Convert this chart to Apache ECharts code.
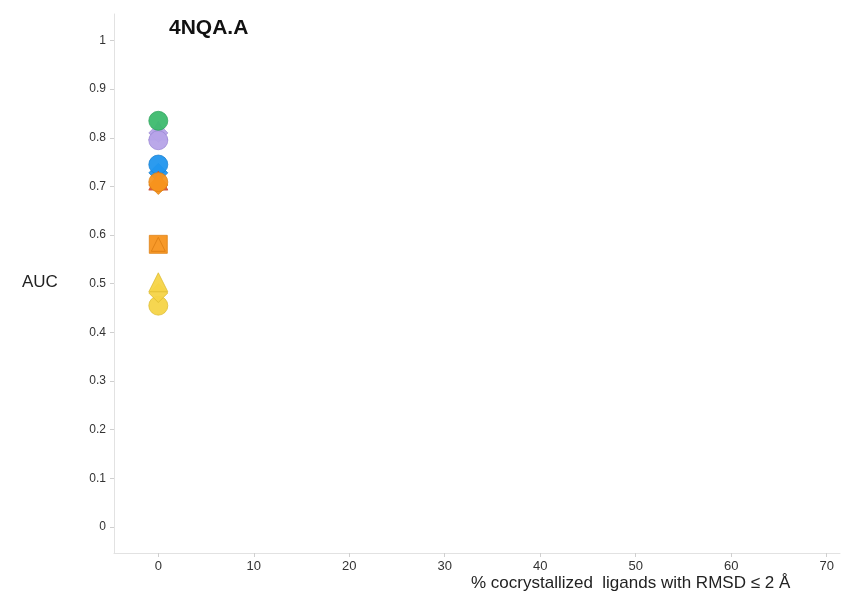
<!DOCTYPE html>
<html>
<head>
<meta charset="utf-8">
<script src="https://cdn.jsdelivr.net/npm/echarts@6/dist/echarts.min.js"></script>
<style>
  html, body { margin: 0; padding: 0; background: #fff; }
  #chart { width: 841px; height: 600px; }
</style>
</head>
<body>
<div id="chart"></div>
<script>
// Tick labels
const xTicks = [0, 10, 20, 30, 40, 50, 60, 70];
const yTicks = [0, 0.1, 0.2, 0.3, 0.4, 0.5, 0.6, 0.7, 0.8, 0.9, 1];

// Points: [% ligands with RMSD <= 2 Å, AUC]
const purpleTriangle = [[0, 0.815]];
const purpleDiamond = [[0, 0.81]];
const purpleCircle = [[0, 0.795]];
const greenCircle = [[0, 0.835]];
const blueDiamond = [[0, 0.728]];
const blueCircle = [[0, 0.745]];
const redTriangle = [[0, 0.712]];
const orangeDiamond = [[0, 0.703]];
const orangeCircle = [[0, 0.709]];
const orangeSquare = [[0, 0.581]];
const orangeTriangle = [[0, 0.581]];
const yellowCircle = [[0, 0.455]];
const yellowDiamond = [[0, 0.481]];
const yellowTriangle = [[0, 0.503]];

const font = '"Liberation Sans", Arial, sans-serif';

function pts(data, symbol, color, border, size) {
  return {
    type: 'scatter',
    data: data,
    symbol: symbol,
    symbolSize: size || 19,
    itemStyle: { color: color, borderColor: border, borderWidth: 0.8, opacity: 0.95 },
    emphasis: { disabled: true }
  };
}

const chart = echarts.init(document.getElementById('chart'));
chart.setOption({
  animation: false,
  backgroundColor: '#fff',
  grid: { left: 114, right: 1, top: 14, bottom: 47 },
  title: {
    text: '4NQA.A',
    left: 164, top: 13,
    textStyle: { fontFamily: font, fontSize: 21, fontWeight: 'bold', color: '#111' }
  },
  graphic: [
    {
      type: 'text', left: 22, top: 274,
      style: { text: 'AUC', font: '17px ' + font, fill: '#222' }
    },
    {
      type: 'text', left: 471, top: 575,
      style: { text: '% cocrystallized  ligands with RMSD \u2264 2 \u00C5', font: '17px ' + font, fill: '#222' }
    }
  ],
  xAxis: {
    type: 'value',
    min: -4.64, max: 71.4,
    splitLine: { show: false },
    axisLine: { show: true, onZero: false, lineStyle: { color: '#e2e2e2', width: 1 } },
    axisTick: { show: true, customValues: xTicks, length: 4, lineStyle: { color: '#cfcfcf' } },
    axisLabel: { customValues: xTicks, color: '#333', fontFamily: font, fontSize: 13, margin: 7 }
  },
  yAxis: {
    type: 'value',
    min: -0.0535, max: 1.0545,
    splitLine: { show: false },
    axisLine: { show: true, onZero: false, lineStyle: { color: '#e2e2e2', width: 1 } },
    axisTick: { show: true, customValues: yTicks, length: 4, lineStyle: { color: '#cfcfcf' } },
    axisLabel: { customValues: yTicks, color: '#333', fontFamily: font, fontSize: 12, margin: 8,
      formatter: v => String(Math.round(v * 10) / 10) }
  },
  series: [
    pts(purpleTriangle, 'triangle', '#b6a3e8', '#9c88d4'),
    pts(purpleDiamond, 'diamond', '#b6a3e8', '#9c88d4'),
    pts(purpleCircle, 'circle', '#b6a3e8', '#9c88d4'),
    pts(greenCircle, 'circle', '#3dba6e', '#2ea35c'),
    pts(blueDiamond, 'diamond', '#2196ee', '#1b7fcf'),
    pts(blueCircle, 'circle', '#2196ee', '#1b7fcf'),
    pts(redTriangle, 'triangle', '#e2573a', '#c84a30'),
    pts(orangeDiamond, 'diamond', '#f7941e', '#dd7f12'),
    pts(orangeCircle, 'circle', '#f7941e', '#dd7f12'),
    pts(orangeSquare, 'rect', '#f7941e', '#dd7f12', 18),
    pts(orangeTriangle, 'triangle', 'rgba(247,148,30,0)', '#d97a10', 14),
    pts(yellowCircle, 'circle', '#f5d447', '#dcbb30'),
    pts(yellowDiamond, 'diamond', '#f5d447', '#dcbb30'),
    pts(yellowTriangle, 'triangle', '#f5d447', '#dcbb30')
  ]
});
</script>
</body>
</html>
